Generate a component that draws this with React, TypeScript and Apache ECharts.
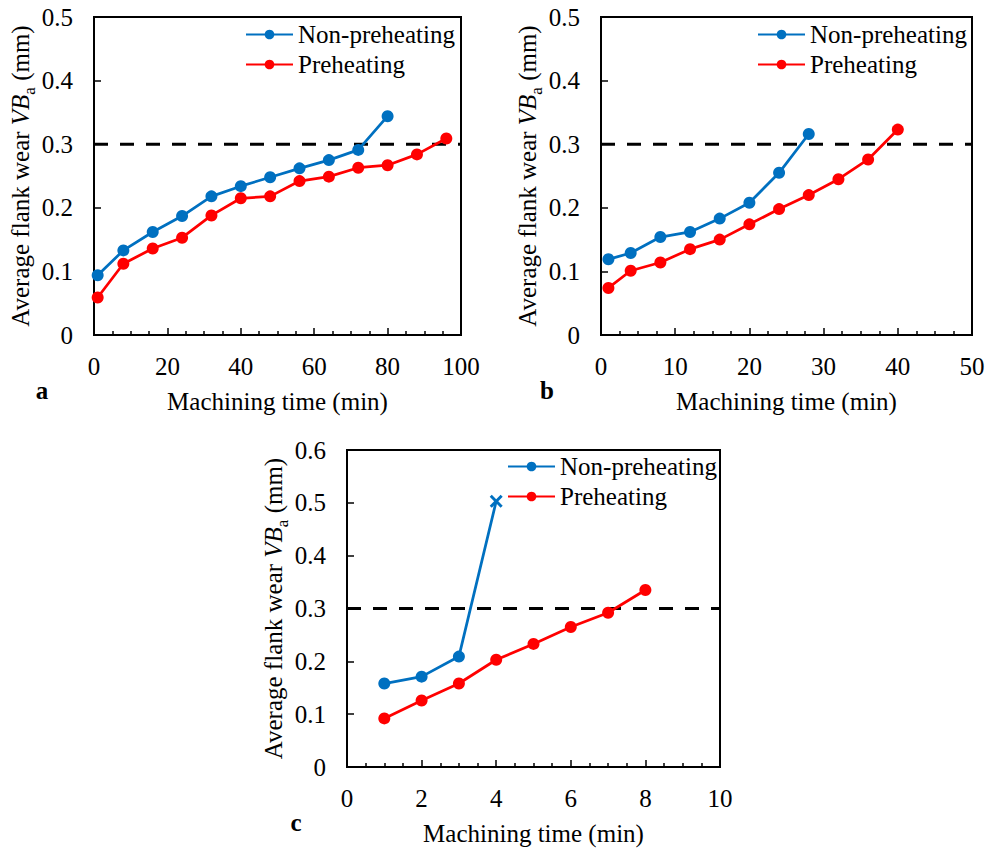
import React, { useEffect, useRef } from 'react';
import * as echarts from 'echarts';

const FONT = 'Liberation Serif';
const FS = 25;
const BLUE = '#0070C0';
const RED = '#FF0000';

const seriesNames = ['Non-preheating', 'Preheating'];
const xAxisTitle = 'Machining time (min)';
const panelLabels = ['a', 'b', 'c'];
const threshold = 0.3;

// Panel a
const timeANon = [1, 8, 16, 24, 32, 40, 48, 56, 64, 72, 80];
const wearANon = [0.094, 0.133, 0.162, 0.187, 0.218, 0.234, 0.248, 0.262, 0.275, 0.291, 0.344];
const timeAPre = [1, 8, 16, 24, 32, 40, 48, 56, 64, 72, 80, 88, 96];
const wearAPre = [0.059, 0.112, 0.136, 0.153, 0.188, 0.215, 0.218, 0.242, 0.249, 0.263, 0.267, 0.284, 0.309];

// Panel b
const timeBNon = [1, 4, 8, 12, 16, 20, 24, 28];
const wearBNon = [0.119, 0.129, 0.154, 0.162, 0.183, 0.208, 0.255, 0.316];
const timeBPre = [1, 4, 8, 12, 16, 20, 24, 28, 32, 36, 40];
const wearBPre = [0.074, 0.101, 0.114, 0.135, 0.15, 0.174, 0.198, 0.22, 0.245, 0.276, 0.323];

// Panel c
const timeCNon = [1, 2, 3, 4];
const wearCNon = [0.158, 0.171, 0.209, 0.503];
const timeCPre = [1, 2, 3, 4, 5, 6, 7, 8];
const wearCPre = [0.092, 0.126, 0.158, 0.203, 0.233, 0.265, 0.292, 0.335];

// axis ranges
const xMaxes = [100, 50, 10];
const xIntervals = [20, 10, 2];
const yMaxes = [0.5, 0.5, 0.6];
const yInterval = 0.1;

const CROSS = 'path://M0,1.6 L1.6,0 L5,3.4 L8.4,0 L10,1.6 L6.6,5 L10,8.4 L8.4,10 L5,6.6 L1.6,10 L0,8.4 L3.4,5 Z';

const pairs = (xs: number[], ys: number[]) => xs.map((x, i) => [x, ys[i]]);

const makeX = (gi: number) => ({
  type: 'value',
  gridIndex: gi,
  min: 0,
  max: xMaxes[gi],
  interval: xIntervals[gi],
  axisLine: { show: true, onZero: false, lineStyle: { color: '#000', width: 2 } },
  axisTick: { show: true, inside: true, length: 7, lineStyle: { color: '#000', width: 1.5 } },
  minorTick: { show: true, splitNumber: 4, length: 4, lineStyle: { color: '#000', width: 1.5 } },
  splitLine: { show: false },
  axisLabel: { fontSize: FS, fontFamily: FONT, color: '#000', margin: 19 },
  name: xAxisTitle,
  nameLocation: 'middle',
  nameGap: 54,
  nameTextStyle: { fontSize: FS, fontFamily: FONT, color: '#000' },
});

const makeY = (gi: number) => ({
  type: 'value',
  gridIndex: gi,
  min: 0,
  max: yMaxes[gi],
  interval: yInterval,
  axisLine: { show: true, onZero: false, lineStyle: { color: '#000', width: 2 } },
  axisTick: { show: true, inside: true, length: 7, lineStyle: { color: '#000', width: 1.5 } },
  splitLine: { show: false },
  axisLabel: {
    fontSize: FS,
    fontFamily: FONT,
    color: '#000',
    margin: 21,
    formatter: (v: number) => (v === 0 ? '0' : v.toFixed(1)),
  },
  name: '{n|Average flank wear }{i|VB}{s|a}{n| (mm)}',
  nameLocation: 'middle',
  nameRotate: 90,
  nameGap: 50,
  nameTextStyle: {
    fontSize: FS,
    fontFamily: FONT,
    color: '#000',
    rich: {
      n: { fontSize: FS, fontFamily: FONT, color: '#000', lineHeight: FS },
      i: { fontSize: FS, fontFamily: FONT, color: '#000', fontStyle: 'italic', lineHeight: FS },
      s: { fontSize: 17, fontFamily: FONT, color: '#000', lineHeight: 17, padding: [17, 0, 0, 0] },
    },
  },
});

const lineSeries = (name: string, color: string, gi: number, data: any[]) => ({
  name,
  type: 'line',
  xAxisIndex: gi,
  yAxisIndex: gi,
  data,
  symbol: 'circle',
  symbolSize: 12,
  lineStyle: { color, width: 2.75 },
  itemStyle: { color },
  z: 3,
});

const dashSeries = (gi: number) => ({
  name: 'threshold',
  type: 'line',
  xAxisIndex: gi,
  yAxisIndex: gi,
  data: [
    [0, threshold],
    [xMaxes[gi], threshold],
  ],
  symbol: 'none',
  lineStyle: { color: '#000', width: 3, type: [14, 12] },
  z: 2,
});

const legendAt = (left: number, top: number) => ({
  orient: 'vertical',
  left,
  top,
  padding: 0,
  data: seriesNames,
  itemWidth: 47,
  itemHeight: 12,
  itemGap: 5,
  textStyle: { fontSize: FS, fontFamily: FONT, color: '#000', lineHeight: FS },
});

const grids = [
  { left: 94, top: 17, width: 367, height: 318 },
  { left: 601, top: 17, width: 371, height: 318 },
  { left: 347, top: 450, width: 373, height: 317 },
].map((g) => ({ ...g, show: true, borderColor: '#000', borderWidth: 2, backgroundColor: 'transparent' }));

const labelPos = [
  [42, 390],
  [547, 390],
  [296, 822],
];

const cData = pairs(timeCNon, wearCNon).map((p, i, arr) =>
  i === arr.length - 1 ? { value: p, symbol: CROSS, symbolSize: 13 } : p
);

const option = {
  animation: false,
  backgroundColor: '#fff',
  textStyle: { fontFamily: FONT },
  grid: grids,
  xAxis: [0, 1, 2].map(makeX),
  yAxis: [0, 1, 2].map(makeY),
  legend: [legendAt(245, 22), legendAt(757, 22), legendAt(507, 454)],
  series: [
    dashSeries(0),
    dashSeries(1),
    dashSeries(2),
    lineSeries(seriesNames[0], BLUE, 0, pairs(timeANon, wearANon)),
    lineSeries(seriesNames[1], RED, 0, pairs(timeAPre, wearAPre)),
    lineSeries(seriesNames[0], BLUE, 1, pairs(timeBNon, wearBNon)),
    lineSeries(seriesNames[1], RED, 1, pairs(timeBPre, wearBPre)),
    lineSeries(seriesNames[0], BLUE, 2, cData),
    lineSeries(seriesNames[1], RED, 2, pairs(timeCPre, wearCPre)),
  ],
  graphic: panelLabels.map((t, i) => ({
    type: 'text',
    x: labelPos[i][0],
    y: labelPos[i][1],
    style: {
      text: t,
      fontSize: FS,
      fontWeight: 'bold',
      fontFamily: FONT,
      fill: '#000',
      align: 'center',
      verticalAlign: 'middle',
    },
  })),
};

export default function App() {
  const ref = useRef<HTMLDivElement>(null);
  useEffect(() => {
    const chart = echarts.init(ref.current as HTMLDivElement, null, { renderer: 'svg' });
    chart.setOption(option as any);
    return () => chart.dispose();
  }, []);
  return (
    <div
      ref={ref}
      style={{ position: 'absolute', left: 0, top: 0, width: 1000, height: 850 }}
    />
  );
}
